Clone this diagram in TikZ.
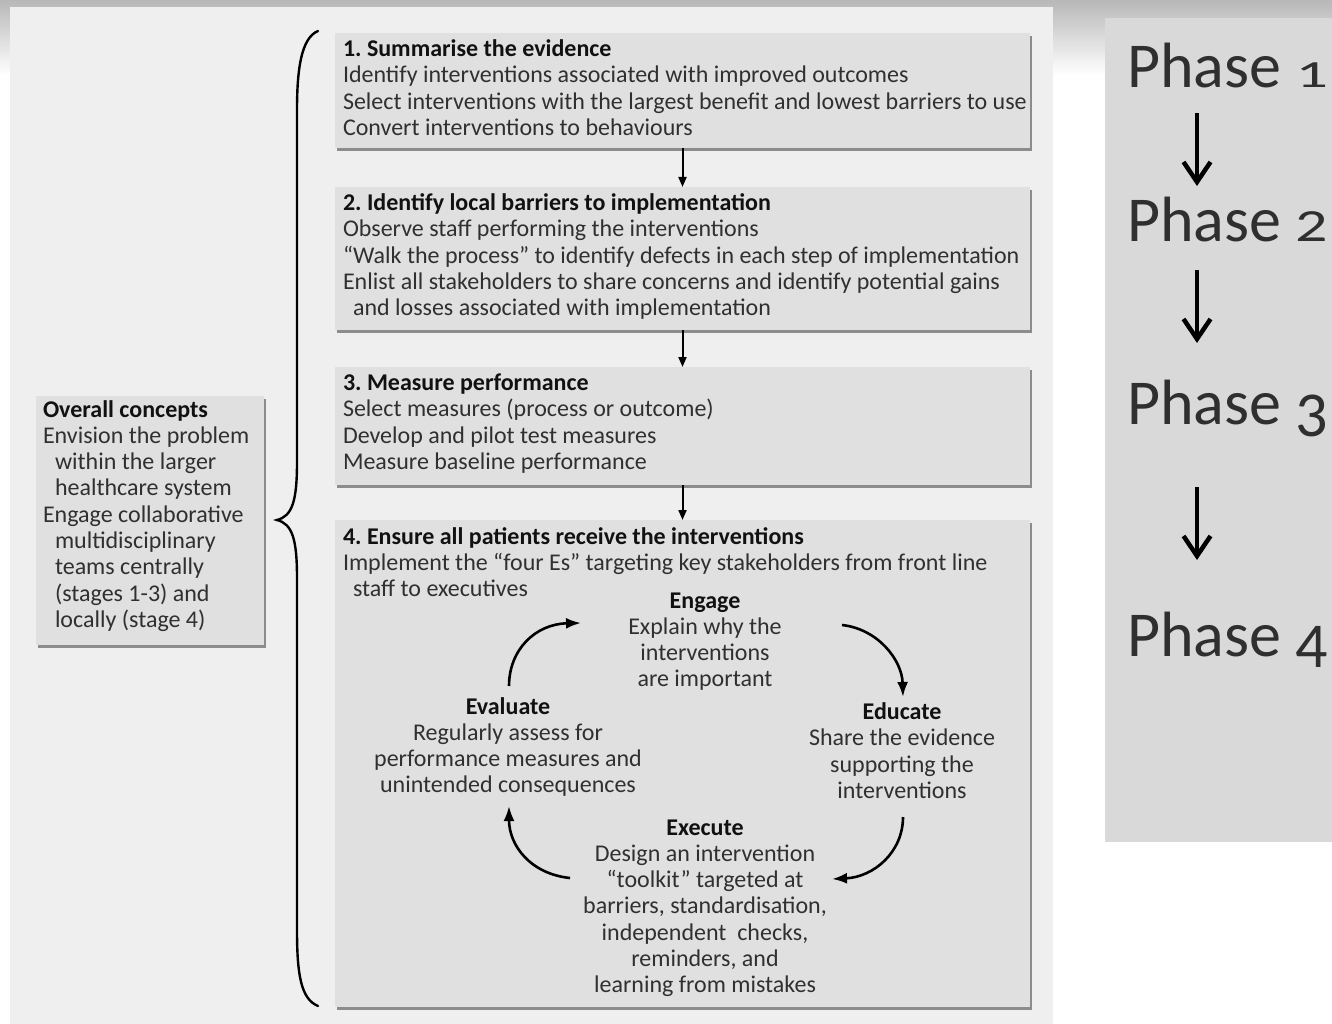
\documentclass[tikz,border=0pt]{standalone}
\usepackage{fontspec}
\setmainfont{Carlito}
\newfontfamily\phasefont{Carlito}
\usetikzlibrary{arrows.meta,calc,shadows}
\definecolor{panel}{HTML}{EFEFEF}
\definecolor{boxfill}{HTML}{E0E0E0}
\definecolor{phasefill}{HTML}{D9D9D9}
\definecolor{ink}{HTML}{303030}
\definecolor{headink}{HTML}{111111}
\definecolor{phaseink}{HTML}{2F2F2F}
\frenchspacing
% old-style figures for the phase labels
\newcommand\osfone{\scalebox{1}[0.6]{1}}
\newcommand\osftwo{\scalebox{1}[0.72]{2}}
\newcommand\osfthree{\raisebox{-12pt}{3}}
\newcommand\osffour{\raisebox{-11pt}{4}}
\begin{document}
\begin{tikzpicture}[x=1pt, y=-1pt,
  every node/.style={inner sep=0pt, outer sep=0pt},
  stage/.style={rectangle, fill=boxfill, anchor=north west,
    drop shadow={shadow xshift=2pt, shadow yshift=-3pt, fill=black!45, opacity=1}},
  body/.style={anchor=base west, text=ink, font=\fontsize{24}{26}\selectfont},
  head/.style={anchor=base west, text=headink, font=\fontsize{24}{26}\selectfont\bfseries},
  bodyc/.style={body, anchor=base},
  headc/.style={head, anchor=base},
  flow/.style={line width=2pt, draw=black, -{Triangle[length=10pt,width=8pt]}},
  roundarrow/.style={line width=2.6pt, -{Latex[length=15pt,width=11pt]}},
  phase/.style={anchor=base west, text=phaseink, font=\phasefont\fontsize{64}{70}\selectfont},
  phasearrow/.style={line width=4.5pt, -{Straight Barb[length=20pt,width=27pt]}}
]
\useasboundingbox (0,0) rectangle (1332,1024);
% page background and the grey fade along the top
\fill[white] (0,0) rectangle (1332,1024);
\fill[top color=black!28, bottom color=white] (0,0) rectangle (1332,75);
\fill[panel] (10,7) rectangle (1053,1024);

% ---- stage 1 ----
\node[stage, minimum width=695pt, minimum height=115pt] (s1) at (335,33) {};
\node[head] (s1h) at ($(s1.north west)+(8,23.5)$) {1. Summarise the evidence};
\foreach \t [count=\i] in {{Identify interventions associated with improved outcomes},
  {Select interventions with the largest benefit and lowest barriers to use},
  {Convert interventions to behaviours}}
  \node[body] (s1l\i) at ($(s1.north west)+(8,{23.5+26.3*\i})$) {\t};

% ---- stage 2 ----
\node[stage, minimum width=695pt, minimum height=143pt] (s2) at (335,187) {};
\node[head] (s2h) at ($(s2.north west)+(8,23.5)$) {2. Identify local barriers to implementation};
\foreach \t [count=\i] in {{Observe staff performing the interventions},
  {“Walk the process” to identify defects in each step of implementation},
  {Enlist all stakeholders to share concerns and identify potential gains},
  {\hspace*{10pt}and losses associated with implementation}}
  \node[body] (s2l\i) at ($(s2.north west)+(8,{23.5+26.3*\i})$) {\t};

% ---- stage 3 ----
\node[stage, minimum width=695pt, minimum height=118pt] (s3) at (335,367) {};
\node[head] (s3h) at ($(s3.north west)+(8,23.5)$) {3. Measure performance};
\foreach \t [count=\i] in {{Select measures (process or outcome)},
  {Develop and pilot test measures},
  {Measure baseline performance}}
  \node[body] (s3l\i) at ($(s3.north west)+(8,{23.5+26.3*\i})$) {\t};

% ---- stage 4 ----
\node[stage, minimum width=695pt, minimum height=487pt] (s4) at (335,520) {};
\node[head] (s4h) at ($(s4.north west)+(8,24)$) {4. Ensure all patients receive the interventions};
\foreach \t [count=\i] in {{Implement the “four Es” targeting key stakeholders from front line},
  {\hspace*{10pt}staff to executives}}
  \node[body] (s4l\i) at ($(s4.north west)+(8,{24+26.3*\i})$) {\t};

% the four Es
\node[headc] (eng) at (705,608) {Engage};
\foreach \t [count=\i] in {{Explain why the},{interventions},{are important}}
  \node[bodyc] (eng\i) at ($(eng.base)+(0,{26.3*\i})$) {\t};
\node[headc] (eva) at (508,714) {Evaluate};
\foreach \t [count=\i] in {{Regularly assess for},{performance measures and},{unintended consequences}}
  \node[bodyc] (eva\i) at ($(eva.base)+(0,{26.3*\i})$) {\t};
\node[headc] (edu) at (902,719) {Educate};
\foreach \t [count=\i] in {{Share the evidence},{supporting the},{interventions}}
  \node[bodyc] (edu\i) at ($(edu.base)+(0,{26.5*\i})$) {\t};
\node[headc] (exe) at (705,835) {Execute};
\foreach \t [count=\i] in {{Design an intervention},{“toolkit” targeted at},
  {barriers, standardisation,},{independent\ \ checks,},{reminders, and},{learning from mistakes}}
  \node[bodyc] (exe\i) at ($(exe.base)+(0,{26.3*\i})$) {\t};

% cycle arrows between the four Es
\coordinate (c1s) at (509,686);  \coordinate (c1e) at (581,623);
\coordinate (c2s) at (842,625);  \coordinate (c2e) at (903,697);
\coordinate (c3s) at (903,817);  \coordinate (c3e) at (832,879);
\coordinate (c4s) at (570,878);  \coordinate (c4e) at (509,806);
\draw[roundarrow] (c1s) .. controls (509,650) and (535,624) .. (c1e);
\draw[roundarrow] (c2s) .. controls (878,629) and (902,660) .. (c2e);
\draw[roundarrow] (c3s) .. controls (903,852) and (874,877) .. (c3e);
\draw[roundarrow] (c4s) .. controls (531,874) and (509,846) .. (c4e);

% stage connectors
\draw[flow] (s1.south) -- (s2.north);
\draw[flow] (s2.south) -- (s3.north);
\draw[flow] (s3.south) -- (s4.north);

% ---- overall concepts ----
\node[stage, minimum width=228pt, minimum height=249pt] (oc) at (36,396) {};
\node[head] (och) at ($(oc.north west)+(7,21)$) {Overall concepts};
\foreach \t [count=\i] in {{Envision the problem},{\hspace*{12pt}within the larger},
  {\hspace*{12pt}healthcare system},{Engage collaborative},{\hspace*{12pt}multidisciplinary},
  {\hspace*{12pt}teams centrally},{\hspace*{12pt}(stages 1-3) and},{\hspace*{12pt}locally (stage 4)}}
  \node[body] (ocl\i) at ($(oc.north west)+(7,{21+26.3*\i})$) {\t};

% brace gathering the four stages
\draw[line width=2.4pt, line cap=round]
  (318,31) .. controls (301,38) and (297,70) .. (297,110) -- (297,462)
  .. controls (297,502) and (292,516) .. (277,520)
  .. controls (292,524) and (297,538) .. (297,578) -- (297,930)
  .. controls (297,975) and (301,999) .. (318,1006);

% ---- phase column ----
\node[rectangle, fill=phasefill, anchor=north west, minimum width=227pt, minimum height=824pt] (pbox) at (1105,18) {};
\node[phase] (p1) at (1127,88) {Phase \osfone};
\node[phase] (p2) at (1127,242) {Phase \osftwo};
\node[phase] (p3) at (1127,424) {Phase \osfthree};
\node[phase] (p4) at (1127,656) {Phase \osffour};
\coordinate (ax) at (1197,0);
\draw[phasearrow, shorten <=25pt, shorten >=56pt] (p1.base -| ax) -- (p2.base -| ax);
\draw[phasearrow, shorten <=28pt, shorten >=81pt] (p2.base -| ax) -- (p3.base -| ax);
\draw[phasearrow, shorten <=63pt, shorten >=96pt] (p3.base -| ax) -- (p4.base -| ax);
\end{tikzpicture}
\end{document}
